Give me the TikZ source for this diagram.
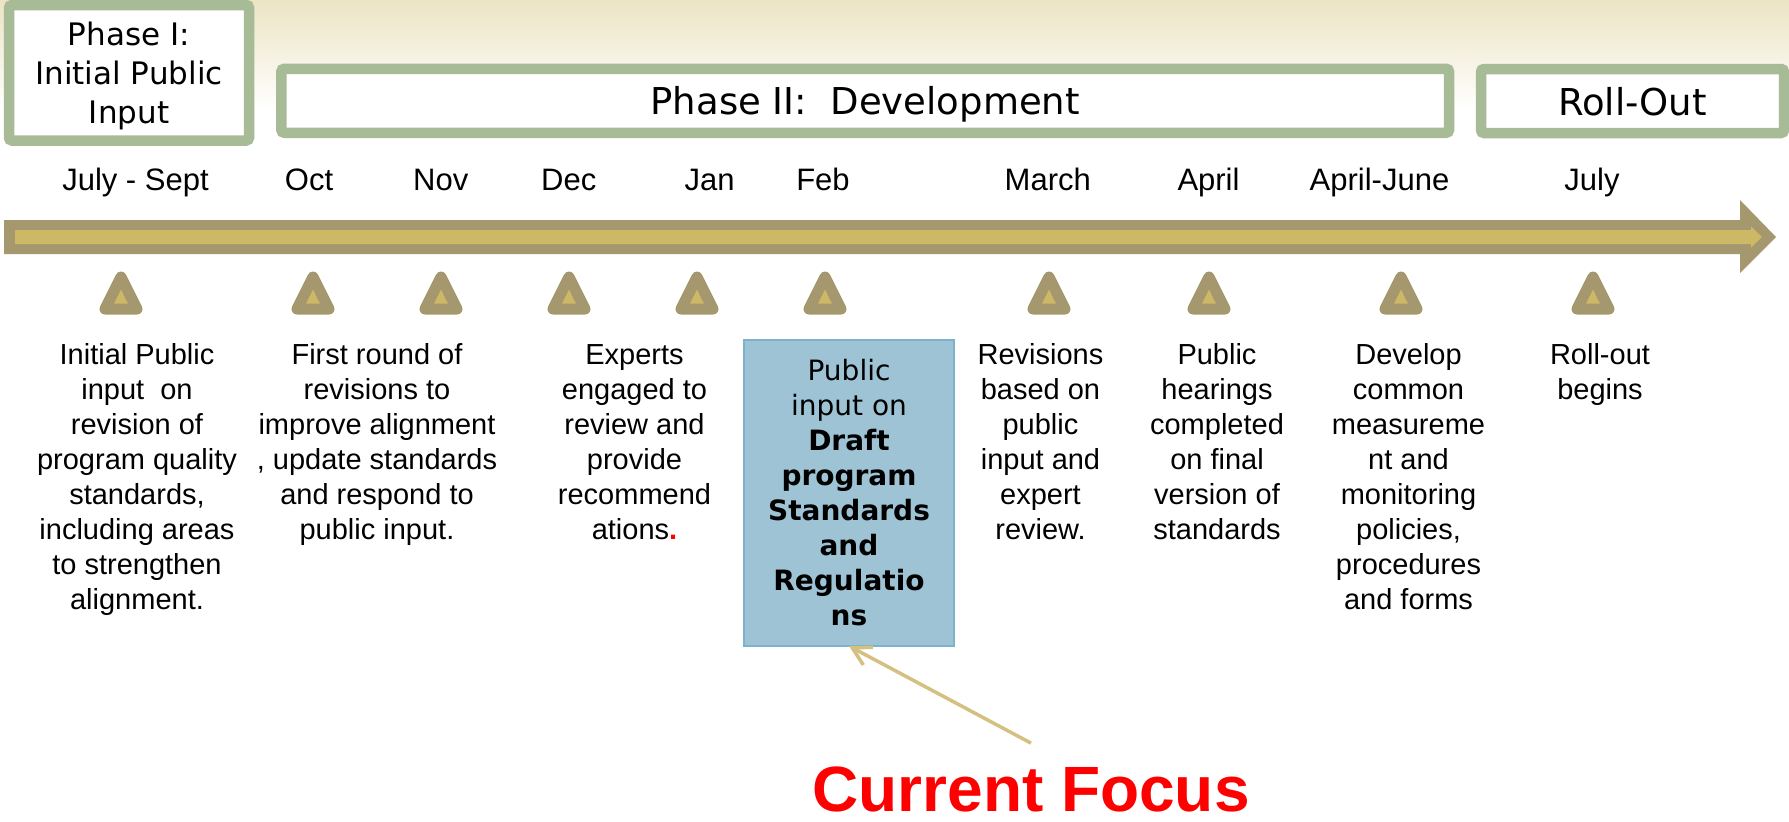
\documentclass[tikz,border=0pt]{standalone}
\usepackage{fontspec}
\setmainfont{Liberation Sans}
\newfontfamily\phasefont{DejaVu Sans}
\usepackage{tikz}
\usetikzlibrary{arrows.meta}
\usepackage{xcolor}
\definecolor{bgtop}{RGB}{236,228,196}
\definecolor{phasegreen}{RGB}{168,187,151}
\definecolor{trackkhaki}{RGB}{165,152,110}
\definecolor{trackgold}{RGB}{205,184,101}
\definecolor{draftblue}{RGB}{157,195,213}
\definecolor{draftborder}{RGB}{125,178,204}
\definecolor{focusline}{RGB}{212,192,128}
\tikzstyle{phasebox} = [draw=phasegreen, fill=white, line width=10.5pt,
    rounded corners=3pt, inner sep=0pt, outer sep=0pt, align=center, text depth=0pt]
\tikzstyle{monthlabel} = [anchor=base, inner sep=0pt, font=\fontsize{31}{37}\selectfont]
\tikzstyle{steptext} = [anchor=north, inner sep=0pt, align=center,
    font=\fontsize{29}{35}\selectfont]
\tikzstyle{monthtick} = [draw=trackkhaki, fill=trackgold, line width=11pt, line join=round]
\tikzstyle{draftbox} = [draw=draftborder, fill=draftblue, line width=1.5pt,
    minimum width=210pt, minimum height=306pt, inner sep=0pt, outer sep=0pt,
    align=center, font=\phasefont\fontsize{28}{35}\selectfont]
\tikzstyle{focustext} = [anchor=base, inner sep=0pt, text=red,
    font=\bfseries\fontsize{64}{77}\selectfont]
\tikzstyle{focusarrow} = [draw=focusline, line width=3.5pt, -{Straight Barb[length=18pt,width=20pt]}]

\begin{document}
\begin{tikzpicture}[x=1pt, y=-1pt]
    \useasboundingbox (0,0) rectangle (1789,822);
    \shade[top color=bgtop, bottom color=white] (0,0) rectangle (1789,110);

    \node [phasebox, minimum width=240pt, minimum height=135.5pt,
        font=\phasefont\fontsize{31}{39}\selectfont] (phaseone) at (129,72.75)
        {Phase I:\\ Initial Public\\ Input};
    \node [phasebox, minimum width=1167.7pt, minimum height=64pt,
        font=\phasefont\fontsize{37}{44}\selectfont] (phasetwo) at (865.2,100.75)
        {Phase II:\ \ Development};
    \node [phasebox, minimum width=303pt, minimum height=64pt,
        font=\phasefont\fontsize{37}{44}\selectfont] (rollout) at (1632.5,101)
        {Roll-Out};

    \node [monthlabel] (mjulsep) at (135.5,190) {July - Sept};
    \node [monthlabel] (moct) at (309,190) {Oct};
    \node [monthlabel] (mnov) at (440.7,190) {Nov};
    \node [monthlabel] (mdec) at (568.7,190) {Dec};
    \node [monthlabel] (mjan) at (709.6,190) {Jan};
    \node [monthlabel] (mfeb) at (823,190) {Feb};
    \node [monthlabel] (mmarch) at (1047.8,190) {March};
    \node [monthlabel] (mapril) at (1208.5,190) {April};
    \node [monthlabel] (maprjun) at (1379.5,190) {April-June};
    \node [monthlabel] (mjuly) at (1592,190) {July};

    \fill [trackkhaki] (4,220) -- (1740,220) -- (1740,200) -- (1776,237)
        -- (1740,273) -- (1740,254) -- (4,254) -- cycle;
    \fill [trackgold] (15,230) -- (1751,230) -- (1751,226.5) -- (1762,237)
        -- (1751,247.5) -- (1751,244) -- (15,244) -- cycle;

    \foreach \x in {121,313,441,569,697,825,1049,1209,1401,1593}
        \draw [monthtick] (\x,277) -- (\x-16,309) -- (\x+16,309) -- cycle;

    \node [steptext] (tjulsep) at (137,343)
        {Initial Public\\ input\ \ on\\ revision of\\ program quality\\ standards,\\
         including areas\\ to strengthen\\ alignment.};
    \node [steptext] (toctnov) at (377,343)
        {First round of\\ revisions to\\ improve alignment\\ , update standards\\
         and respond to\\ public input.};
    \node [steptext] (tdec) at (634.5,344)
        {Experts\\ engaged to\\ review and\\ provide\\ recommend\\ ations\textbf{\color{red}.}};
    \node [draftbox] (draft) at (849,493)
        {Public\\ input on\\ \textbf{Draft}\\ \textbf{program}\\ \textbf{Standards}\\
         \textbf{and}\\ \textbf{Regulatio}\\ \textbf{ns}};
    \node [steptext] (tmarch) at (1040.5,343)
        {Revisions\\ based on\\ public\\ input and\\ expert\\ review.};
    \node [steptext] (tapril) at (1217,343)
        {Public\\ hearings\\ completed\\ on final\\ version of\\ standards};
    \node [steptext] (taprjun) at (1408.5,343)
        {Develop\\ common\\ measureme\\ nt and\\ monitoring\\ policies,\\
         procedures\\ and forms};
    \node [steptext] (tjuly) at (1600,343) {Roll-out\\ begins};

    \node [focustext] (focus) at (1031,811) {Current Focus};
    \draw [focusarrow] ([yshift=23pt]focus.north) -- (draft.south);
\end{tikzpicture}
\end{document}
